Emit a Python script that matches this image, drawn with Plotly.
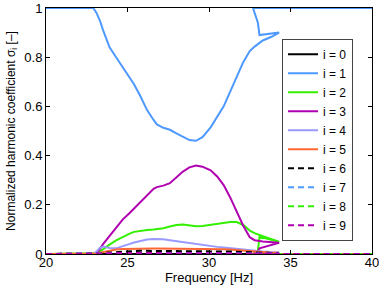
import plotly.graph_objects as go

# Continuation path in frequency (the response folds back near 33-34 Hz)
freq = [20.0, 22.9, 23.1, 23.3, 23.5, 23.9, 24.3, 24.7, 25.1, 25.4, 25.8, 26.2,
        26.6, 26.8, 27.2, 27.6, 28.0, 28.4, 28.8, 29.2, 29.6, 30.1, 30.5, 30.9,
        31.3, 31.7, 32.1, 32.5, 32.8, 33.3, 33.8, 34.3, 33.1, 33.0, 32.7, 40.0]

sigma_0 = [0, 0, 0, 0, 0, 0, 0, 0, 0, 0, 0, 0, 0, 0, 0, 0, 0, 0,
           0, 0, 0, 0, 0, 0, 0, 0, 0, 0, 0, 0, 0, 0, 0, 0, 0, 0]
sigma_1 = [1.0, 1.0, 0.98, 0.95, 0.91, 0.84, 0.80, 0.76, 0.72, 0.69, 0.64, 0.585,
           0.545, 0.527, 0.513, 0.505, 0.49, 0.475, 0.463, 0.46, 0.475, 0.515, 0.555, 0.60,
           0.66, 0.72, 0.78, 0.825, 0.843, 0.868, 0.882, 0.90, 0.89, 0.94, 1.0, 1.0]
sigma_2 = [0, 0, 0.003, 0.01, 0.02, 0.038, 0.055, 0.07, 0.082, 0.09, 0.095, 0.098,
           0.1, 0.101, 0.105, 0.112, 0.118, 0.12, 0.116, 0.113, 0.114, 0.118, 0.122, 0.126,
           0.13, 0.13, 0.118, 0.095, 0.085, 0.072, 0.06, 0.05, 0.07, 0.015, 0.0, 0.0]
sigma_3 = [0, 0, 0.005, 0.02, 0.04, 0.075, 0.11, 0.14, 0.165, 0.185, 0.21, 0.24,
           0.265, 0.272, 0.278, 0.288, 0.31, 0.335, 0.352, 0.36, 0.355, 0.34, 0.315, 0.28,
           0.23, 0.17, 0.115, 0.068, 0.056, 0.051, 0.048, 0.046, 0.023, 0.01, 0.0, 0.0]
sigma_4 = [0, 0, 0.01, 0.025, 0.03, 0.024, 0.023, 0.03, 0.04, 0.047, 0.053, 0.059,
           0.061, 0.061, 0.06, 0.056, 0.052, 0.049, 0.046, 0.042, 0.037, 0.032, 0.029, 0.026,
           0.023, 0.02, 0.018, 0.015, 0.012, 0.01, 0.008, 0.007, 0.004, 0.002, 0.0, 0.0]
sigma_5 = [0, 0, 0.002, 0.005, 0.008, 0.014, 0.018, 0.02, 0.021, 0.022, 0.022, 0.022,
           0.022, 0.022, 0.022, 0.022, 0.022, 0.022, 0.022, 0.021, 0.021, 0.02, 0.02, 0.019,
           0.018, 0.016, 0.013, 0.01, 0.008, 0.006, 0.005, 0.005, 0.003, 0.001, 0.0, 0.0]
sigma_6 = [0, 0, 0.001, 0.002, 0.004, 0.006, 0.009, 0.011, 0.012, 0.012, 0.013, 0.013,
           0.013, 0.013, 0.013, 0.013, 0.013, 0.013, 0.012, 0.012, 0.012, 0.012, 0.011, 0.011,
           0.01, 0.009, 0.008, 0.007, 0.006, 0.004, 0.004, 0.003, 0.002, 0.001, 0.0, 0.0]
sigma_7 = [0, 0, 0.0, 0.001, 0.001, 0.002, 0.003, 0.004, 0.004, 0.005, 0.005, 0.005,
           0.005, 0.005, 0.005, 0.005, 0.005, 0.005, 0.005, 0.005, 0.005, 0.005, 0.005, 0.005,
           0.005, 0.005, 0.005, 0.004, 0.004, 0.003, 0.002, 0.002, 0.001, 0.001, 0.0, 0.0]
sigma_8 = [0, 0, 0.0, 0.0, 0.001, 0.001, 0.002, 0.002, 0.003, 0.003, 0.003, 0.003,
           0.003, 0.003, 0.003, 0.003, 0.003, 0.003, 0.003, 0.003, 0.003, 0.003, 0.003, 0.003,
           0.003, 0.003, 0.003, 0.003, 0.002, 0.002, 0.002, 0.001, 0.001, 0.0, 0.0, 0.0]
sigma_9 = [0, 0, 0.0, 0.001, 0.001, 0.002, 0.003, 0.004, 0.004, 0.004, 0.004, 0.004,
           0.004, 0.004, 0.004, 0.004, 0.004, 0.004, 0.004, 0.004, 0.004, 0.004, 0.004, 0.004,
           0.004, 0.004, 0.004, 0.004, 0.003, 0.003, 0.003, 0.002, 0.001, 0.0, 0.0, 0.0]

series = [sigma_0, sigma_1, sigma_2, sigma_3, sigma_4,
          sigma_5, sigma_6, sigma_7, sigma_8, sigma_9]
names = ["i = 0", "i = 1", "i = 2", "i = 3", "i = 4",
         "i = 5", "i = 6", "i = 7", "i = 8", "i = 9"]

colors = ["#000000", "#4D99FF", "#33F000", "#B000B0", "#9999FF",
          "#FF6633", "#000000", "#4D99FF", "#33F000", "#B000B0"]
dashes = ["solid"] * 6 + ["6px,4px"] * 4

x_ticks = [20, 25, 30, 35, 40]
y_ticks = [0, 0.2, 0.4, 0.6, 0.8, 1]
y_tick_labels = ["0", "0.2", "0.4", "0.6", "0.8", "1"]

fig = go.Figure()
for vals, name, col, dsh in zip(series, names, colors, dashes):
    fig.add_trace(go.Scatter(
        x=freq, y=vals, mode="lines", name=name,
        line=dict(color=col, width=2, dash=dsh),
    ))

axis_common = dict(
    showline=True, linecolor="black", linewidth=1, mirror="ticks",
    ticks="inside", ticklen=4, tickcolor="black", tickwidth=1,
    showgrid=False, zeroline=False, automargin=False,
    ticklabeloverflow="allow",
    tickfont=dict(family="Liberation Sans, Arial, sans-serif", size=13, color="black"),
)

fig.update_layout(
    width=379, height=286,
    margin=dict(l=46, r=7, t=8, b=32),
    paper_bgcolor="white", plot_bgcolor="white",
    font=dict(family="Liberation Sans, Arial, sans-serif", size=13, color="black"),
    xaxis=dict(range=[20, 40], tickvals=x_ticks, ticklabelstandoff=-4,
               title=dict(text="Frequency [Hz]", standoff=0,
                          font=dict(size=13)),
               **axis_common),
    yaxis=dict(range=[0, 1], tickvals=y_ticks, ticktext=y_tick_labels,
               title=dict(text="Normalized harmonic coefficient σ<sub>i</sub> [–]",
                          standoff=6, font=dict(size=12)),
               **axis_common),
    legend=dict(
        x=0.724, y=0.875, xanchor="left", yanchor="top",
        bgcolor="white", bordercolor="#444444", borderwidth=1,
        font=dict(size=12, color="black"),
        itemwidth=30, tracegroupgap=0,
    ),
    showlegend=True,
)

fig.write_html("out.html",
               config={"displayModeBar": False},
               post_script="document.body.style.margin='0';")
